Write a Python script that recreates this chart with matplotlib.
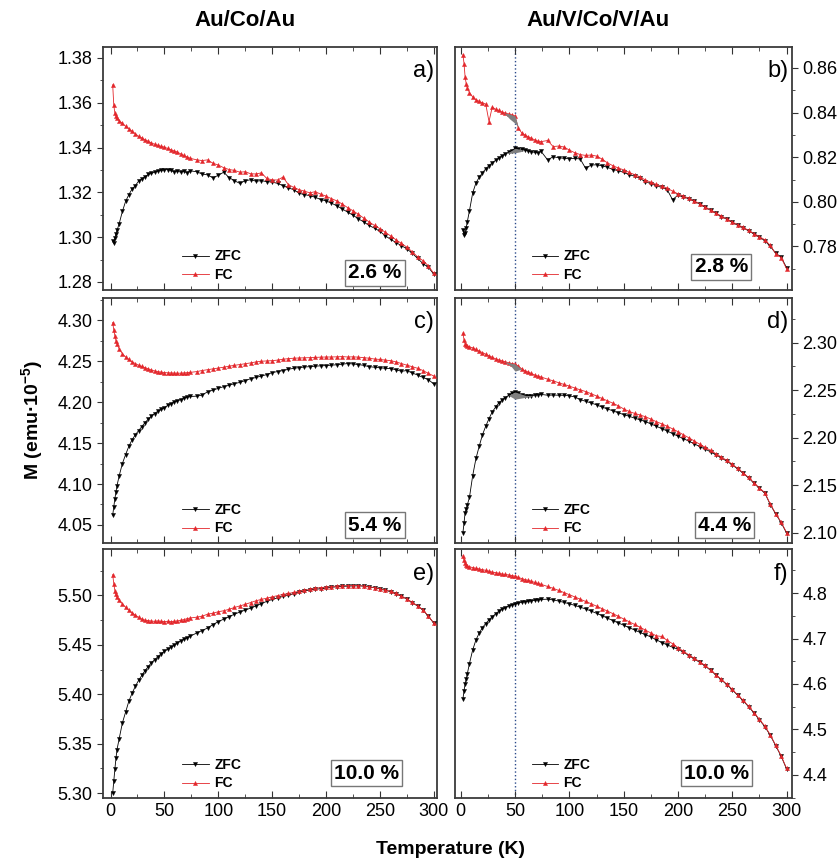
import matplotlib
matplotlib.use("Agg")
import matplotlib.pyplot as plt
from matplotlib.ticker import MultipleLocator, AutoMinorLocator, FormatStrFormatter

plt.rcParams["font.family"] = ["Liberation Sans", "DejaVu Sans"]
plt.rcParams["mathtext.fontset"] = "custom"
plt.rcParams["mathtext.rm"] = "Liberation Sans"
plt.rcParams["mathtext.bf"] = "Liberation Sans:bold"

# temperature grids (K): dense below 75 K, sparse above
T_low = [2, 3, 4, 5, 6, 8, 11, 14, 17, 20, 23, 26, 29, 32, 35, 38, 41, 44, 47, 50,
         53, 56, 59, 62, 65, 68, 71, 74]
T_high = [80, 85, 90, 95, 100, 105, 110, 115, 120, 125, 130, 135, 140, 145, 150,
          155, 160, 165, 170, 175, 180, 185, 190, 195, 200, 205, 210, 215, 220, 225,
          230, 235, 240, 245, 250, 255, 260, 265, 270, 275, 280, 285, 290, 295, 300]

# a) Au/Co/Au 2.6 %
a_zfc_low = [1.2985, 1.2975, 1.2995, 1.3015, 1.303, 1.306, 1.3115, 1.316, 1.319, 1.3215,
             1.323, 1.325, 1.326, 1.327, 1.328, 1.3285, 1.329, 1.3295, 1.3298, 1.330,
             1.3302, 1.3298, 1.3292, 1.3296, 1.329, 1.3294, 1.3288, 1.3296]
a_zfc_high = [1.3292, 1.3282, 1.3278, 1.3265, 1.3276, 1.3290, 1.3266, 1.3252, 1.3240,
              1.3252, 1.3256, 1.3250, 1.3252, 1.3248, 1.3246, 1.3240, 1.3230, 1.3220,
              1.3212, 1.3196, 1.3190, 1.3185, 1.3178, 1.3168, 1.3162, 1.3152, 1.3140,
              1.3126, 1.3112, 1.3098, 1.3082, 1.3068, 1.3052, 1.3040, 1.3026, 1.3006,
              1.2990, 1.2976, 1.2962, 1.2948, 1.2928, 1.2905, 1.2882, 1.2865, 1.2835]
a_fc_low = [1.368, 1.359, 1.3555, 1.354, 1.353, 1.352, 1.3508, 1.3495, 1.3485, 1.3472,
            1.3462, 1.345, 1.3443, 1.3435, 1.3428, 1.342, 1.3415, 1.341, 1.3405, 1.3402,
            1.3396, 1.339, 1.3385, 1.338, 1.3372, 1.3365, 1.3358, 1.3352]
a_fc_high = [1.3345, 1.3342, 1.3345, 1.3330, 1.3322, 1.3310, 1.3302, 1.3298, 1.3290,
             1.3292, 1.3283, 1.3282, 1.3287, 1.3262, 1.3256, 1.3255, 1.3268, 1.3235,
             1.3222, 1.3212, 1.3205, 1.3198, 1.3203, 1.3192, 1.3183, 1.3172, 1.3162,
             1.3148, 1.3132, 1.3118, 1.3102, 1.3085, 1.3068, 1.3052, 1.3038, 1.3022,
             1.3005, 1.2988, 1.2972, 1.2955, 1.2935, 1.2912, 1.2895, 1.2872, 1.2838]

# b) Au/V/Co/V/Au 2.8 %
b_zfc_low = [0.7875, 0.7850, 0.7862, 0.7885, 0.7910, 0.7960, 0.8040, 0.8085, 0.8110,
             0.8130, 0.8148, 0.8162, 0.8175, 0.8186, 0.8196, 0.8206, 0.8214, 0.8222,
             0.8230, 0.8240, 0.8238, 0.8235, 0.8232, 0.8228, 0.8224, 0.8222, 0.8220,
             0.8226]
b_zfc_high = [0.8188, 0.8202, 0.8198, 0.8195, 0.8193, 0.8195, 0.8192, 0.8150, 0.8165,
              0.8166, 0.8162, 0.8155, 0.8145, 0.8140, 0.8132, 0.8122, 0.8115, 0.8105,
              0.8090, 0.8082, 0.8072, 0.8065, 0.8055, 0.8010, 0.8030, 0.8022, 0.8014,
              0.8002, 0.7990, 0.7976, 0.7962, 0.7948, 0.7934, 0.7922, 0.7908, 0.7895,
              0.7884, 0.7870, 0.7856, 0.7842, 0.7826, 0.7800, 0.7770, 0.7752, 0.7705]
b_fc_low = [0.866, 0.862, 0.856, 0.853, 0.851, 0.849, 0.847, 0.8458, 0.845, 0.8444,
            0.8438, 0.836, 0.8425, 0.8415, 0.841, 0.8402, 0.8398, 0.8394, 0.839, 0.8385,
            0.8330, 0.8310, 0.8300, 0.8292, 0.8285, 0.8278, 0.8272, 0.8270]
b_fc_high = [0.8275, 0.8248, 0.8250, 0.8246, 0.8232, 0.8220, 0.8212, 0.8208, 0.8210,
             0.8205, 0.8192, 0.8175, 0.8162, 0.8152, 0.8143, 0.8132, 0.8122, 0.8112,
             0.8098, 0.8088, 0.8078, 0.8070, 0.8062, 0.8048, 0.8036, 0.8026, 0.8016,
             0.8004, 0.7992, 0.7978, 0.7964, 0.7950, 0.7936, 0.7924, 0.7910, 0.7898,
             0.7886, 0.7872, 0.7858, 0.7844, 0.7830, 0.7805, 0.7768, 0.7750, 0.7700]

# c) Au/Co/Au 5.4 %
c_zfc_low = [4.062, 4.072, 4.082, 4.090, 4.098, 4.110, 4.125, 4.136, 4.146, 4.154,
             4.160, 4.165, 4.170, 4.175, 4.179, 4.183, 4.186, 4.189, 4.191, 4.193,
             4.196, 4.198, 4.200, 4.2015, 4.203, 4.2045, 4.2058, 4.2068]
c_zfc_high = [4.2072, 4.2085, 4.2125, 4.2145, 4.2168, 4.2188, 4.2205, 4.2225, 4.2240,
              4.2262, 4.2285, 4.2300, 4.2318, 4.2335, 4.2360, 4.2372, 4.2385, 4.2400,
              4.2412, 4.2420, 4.2428, 4.2432, 4.2438, 4.2442, 4.2445, 4.2450, 4.2455,
              4.2462, 4.2470, 4.2465, 4.2458, 4.2448, 4.2432, 4.2425, 4.2418, 4.2412,
              4.2408, 4.2395, 4.2375, 4.2385, 4.2355, 4.2330, 4.2300, 4.2275, 4.2220]
c_fc_low = [4.297, 4.288, 4.281, 4.275, 4.271, 4.265, 4.259, 4.255, 4.252, 4.249,
            4.247, 4.245, 4.2435, 4.242, 4.2405, 4.239, 4.238, 4.237, 4.2365, 4.236,
            4.2357, 4.2355, 4.2353, 4.2352, 4.2352, 4.2355, 4.2358, 4.2362]
c_fc_high = [4.2372, 4.2385, 4.2395, 4.2405, 4.2415, 4.2425, 4.2438, 4.2448, 4.2458,
             4.2468, 4.2478, 4.2490, 4.2498, 4.2502, 4.2505, 4.2512, 4.2522, 4.2530,
             4.2535, 4.2538, 4.2540, 4.2542, 4.2545, 4.2548, 4.2550, 4.2550, 4.2552,
             4.2555, 4.2550, 4.2552, 4.2548, 4.2542, 4.2535, 4.2525, 4.2520, 4.2512,
             4.2505, 4.2490, 4.2470, 4.2450, 4.2432, 4.2412, 4.2385, 4.2350, 4.2318]

# d) Au/V/Co/V/Au 4.4 %
d_zfc_low = [2.1000, 2.110, 2.121, 2.125, 2.129, 2.137, 2.160, 2.178, 2.191, 2.203,
             2.212, 2.220, 2.227, 2.232, 2.2365, 2.2395, 2.242, 2.2445, 2.2465, 2.248,
             2.2468, 2.2450, 2.2442, 2.2440, 2.2442, 2.2445, 2.2450, 2.2455]
d_zfc_high = [2.2446, 2.2448, 2.2446, 2.2445, 2.2440, 2.2428, 2.2400, 2.2382, 2.2365,
              2.2345, 2.2322, 2.2302, 2.2282, 2.2262, 2.2242, 2.2225, 2.2205, 2.2188,
              2.2168, 2.2145, 2.2120, 2.2095, 2.2070, 2.2042, 2.2015, 2.1990, 2.1962,
              2.1935, 2.1905, 2.1880, 2.1850, 2.1818, 2.1785, 2.1752, 2.1712, 2.1670,
              2.1625, 2.1575, 2.1520, 2.1465, 2.1415, 2.1295, 2.1195, 2.1105, 2.0995]
d_fc_low = [2.310, 2.303, 2.299, 2.2975, 2.2965, 2.2955, 2.2945, 2.2928, 2.291, 2.2895,
            2.2878, 2.2862, 2.2845, 2.2830, 2.2818, 2.2808, 2.2798, 2.2788, 2.2780,
            2.2775, 2.2752, 2.2725, 2.2705, 2.2690, 2.2675, 2.2660, 2.2648, 2.2638]
d_fc_high = [2.2615, 2.2598, 2.2578, 2.2560, 2.2542, 2.2522, 2.2503, 2.2485, 2.2462,
             2.2438, 2.2412, 2.2388, 2.2362, 2.2335, 2.2302, 2.2275, 2.2255, 2.2238,
             2.2220, 2.2195, 2.2168, 2.2145, 2.2120, 2.2092, 2.2062, 2.2030, 2.1998,
             2.1965, 2.1930, 2.1898, 2.1865, 2.1830, 2.1795, 2.1760, 2.1720, 2.1675,
             2.1630, 2.1580, 2.1525, 2.1470, 2.1420, 2.1300, 2.1200, 2.1110, 2.1000]

# e) Au/Co/Au 10.0 %
e_zfc_low = [5.300, 5.312, 5.324, 5.335, 5.344, 5.355, 5.371, 5.382, 5.393, 5.401,
             5.408, 5.414, 5.419, 5.424, 5.428, 5.432, 5.435, 5.438, 5.441, 5.4435,
             5.4455, 5.4475, 5.4495, 5.452, 5.454, 5.4555, 5.4572, 5.4588]
e_zfc_high = [5.462, 5.4645, 5.467, 5.4705, 5.4735, 5.476, 5.4785, 5.481, 5.4832,
              5.4852, 5.4872, 5.4894, 5.4918, 5.494, 5.496, 5.4975, 5.499, 5.5003,
              5.5018, 5.5032, 5.5046, 5.5055, 5.5062, 5.5068, 5.5074, 5.5082, 5.5088,
              5.5092, 5.5094, 5.5096, 5.5097, 5.5094, 5.5086, 5.5078, 5.5066, 5.5052,
              5.5038, 5.5016, 5.4992, 5.4962, 5.4928, 5.4892, 5.4852, 5.4788, 5.4720]
e_fc_low = [5.521, 5.512, 5.505, 5.501, 5.498, 5.495, 5.4915, 5.488, 5.485, 5.4825,
            5.480, 5.478, 5.476, 5.475, 5.4745, 5.474, 5.4738, 5.4742, 5.4738, 5.4735,
            5.4738, 5.4735, 5.4738, 5.4742, 5.4748, 5.4755, 5.4765, 5.4772]
e_fc_high = [5.478, 5.479, 5.481, 5.482, 5.4835, 5.4845, 5.486, 5.4878, 5.4894, 5.491,
             5.4928, 5.4946, 5.496, 5.4972, 5.4986, 5.4998, 5.501, 5.502, 5.503, 5.5042,
             5.5052, 5.5062, 5.5072, 5.508, 5.5084, 5.509, 5.5095, 5.5098, 5.510, 5.510,
             5.510, 5.5096, 5.5088, 5.508, 5.5068, 5.5055, 5.5042, 5.502, 5.4995,
             5.4965, 5.493, 5.4895, 5.4855, 5.479, 5.4723]

# f) Au/V/Co/V/Au 10.0 %
f_zfc_low = [4.567, 4.585, 4.600, 4.611, 4.622, 4.645, 4.675, 4.697, 4.712, 4.724,
             4.733, 4.741, 4.748, 4.754, 4.760, 4.7645, 4.768, 4.7715, 4.774, 4.776,
             4.778, 4.7795, 4.781, 4.782, 4.783, 4.784, 4.785, 4.786]
f_zfc_high = [4.7865, 4.785, 4.7825, 4.7795, 4.7765, 4.7728, 4.7690, 4.765, 4.7605,
              4.7555, 4.7505, 4.745, 4.7395, 4.7345, 4.7292, 4.7240, 4.7188, 4.7135,
              4.7085, 4.7035, 4.6975, 4.6910, 4.6862, 4.6808, 4.6765, 4.670, 4.6625,
              4.655, 4.6475, 4.6395, 4.630, 4.6195, 4.609, 4.5985, 4.587, 4.575,
              4.563, 4.550, 4.536, 4.521, 4.506, 4.487, 4.464, 4.441, 4.413]
f_fc_low = [4.882, 4.872, 4.866, 4.862, 4.860, 4.858, 4.856, 4.8545, 4.853, 4.8515,
            4.850, 4.848, 4.846, 4.845, 4.8435, 4.842, 4.841, 4.840, 4.8385, 4.837,
            4.8345, 4.832, 4.8298, 4.828, 4.826, 4.8235, 4.8212, 4.8192]
f_fc_high = [4.8145, 4.8105, 4.806, 4.8012, 4.7965, 4.7915, 4.7865, 4.7815, 4.7765,
             4.7712, 4.7658, 4.7605, 4.7548, 4.749, 4.743, 4.737, 4.731, 4.7248,
             4.7185, 4.7122, 4.706, 4.7045, 4.696, 4.6885, 4.680, 4.672, 4.664,
             4.6565, 4.649, 4.6407, 4.631, 4.6205, 4.610, 4.5995, 4.588, 4.576,
             4.564, 4.551, 4.537, 4.522, 4.5074, 4.488, 4.465, 4.442, 4.414]

# grey wedges around the 50 K feature (T, lower, upper)
b_shade_fc = ([40, 45, 50, 53], [0.8398, 0.8372, 0.8352, 0.8335], [0.8398, 0.8394, 0.8385, 0.8335])
b_shade_zfc = ([42, 46, 50, 55, 58], [0.8218, 0.8218, 0.8220, 0.8225, 0.8230], [0.8218, 0.8228, 0.8240, 0.8235, 0.8230])
d_shade_fc = ([40, 46, 50, 56], [2.2800, 2.2755, 2.2700, 2.2722], [2.2800, 2.2785, 2.2775, 2.2722])
d_shade_zfc = ([44, 50, 60, 68], [2.2445, 2.2405, 2.2425, 2.2445], [2.2445, 2.2480, 2.2442, 2.2445])

titles = ["Au/Co/Au", "Au/V/Co/V/Au"]
letters = ["a)", "b)", "c)", "d)", "e)", "f)"]
percents = ["2.6 %", "2.8 %", "5.4 %", "4.4 %", "10.0 %", "10.0 %"]

RED = "#e3262b"


def setup_axis(ax, col, bottom_row, ylim, ystep, yfmt, xlim):
    ax.set_xlim(*xlim)
    ax.set_ylim(*ylim)
    ax.xaxis.set_major_locator(MultipleLocator(50))
    ax.xaxis.set_minor_locator(MultipleLocator(25))
    ax.yaxis.set_major_locator(MultipleLocator(ystep))
    ax.yaxis.set_minor_locator(AutoMinorLocator(2))
    ax.yaxis.set_major_formatter(FormatStrFormatter(yfmt))
    ax.tick_params(axis="x", which="both", direction="in", top=True, labelsize=13,
                   labelbottom=bottom_row, color="#333333")
    ax.tick_params(axis="x", which="major", length=5)
    ax.tick_params(axis="x", which="minor", length=3)
    ax.tick_params(axis="y", which="both", direction="out", labelsize=13, color="#333333")
    ax.tick_params(axis="y", which="major", length=4)
    ax.tick_params(axis="y", which="minor", length=2.5)
    if col == 1:
        ax.yaxis.tick_right()
    for s in ax.spines.values():
        s.set_color("#3a3a3a")
        s.set_linewidth(1.3)


def draw_panel(ax, zfc_low, zfc_high, fc_low, fc_high, letter, pct, col, pct_xy):
    T = T_low + T_high
    ax.plot(T, zfc_low + zfc_high, color="black", lw=0.6, marker="v", ms=3,
            mew=0.3, label="ZFC", zorder=3)
    ax.plot(T, fc_low + fc_high, color=RED, lw=0.6, marker="^", ms=3,
            mew=0.3, label="FC", zorder=3)
    ax.text(0.99, 0.9, letter, transform=ax.transAxes, ha="right", va="center",
            fontsize=17)
    ax.text(pct_xy[0], pct_xy[1], pct, transform=ax.transAxes, ha="center",
            va="center", fontsize=15, fontweight="bold",
            bbox=dict(boxstyle="square,pad=0.15", fc="white", ec="#777777", lw=1))
    leg = ax.legend(loc="lower left", bbox_to_anchor=(0.2 if col == 0 else 0.19, -0.02),
                    frameon=False, handlelength=1.9, handletextpad=0.4,
                    labelspacing=0.35, prop={"weight": "bold", "size": 10})
    for h in leg.legend_handles:
        h.set_markersize(3)


def main():
    fig = plt.figure(figsize=(8.4, 8.66), dpi=100)
    col_x = [(103 / 840, 334 / 840), (455 / 840, 337 / 840)]
    rows = [(1 - 290 / 866, 243 / 866), (1 - 543 / 866, 245 / 866),
            (1 - 798 / 866, 249 / 866)]
    xlims = [(-7, 303), (-5.3, 305)]

    panels = [
        (a_zfc_low, a_zfc_high, a_fc_low, a_fc_high, (1.2764, 1.3849), 0.02, "%.2f", (0.814, 0.07)),
        (b_zfc_low, b_zfc_high, b_fc_low, b_fc_high, (0.7605, 0.8694), 0.02, "%.2f", (0.79, 0.095)),
        (c_zfc_low, c_zfc_high, c_fc_low, c_fc_high, (4.028, 4.327), 0.05, "%.2f", (0.814, 0.073)),
        (d_zfc_low, d_zfc_high, d_fc_low, d_fc_high, (2.089, 2.347), 0.05, "%.2f", (0.80, 0.073)),
        (e_zfc_low, e_zfc_high, e_fc_low, e_fc_high, (5.295, 5.547), 0.05, "%.2f", (0.79, 0.10)),
        (f_zfc_low, f_zfc_high, f_fc_low, f_fc_high, (4.349, 4.897), 0.1, "%.1f", (0.777, 0.10)),
    ]
    shades = {1: (b_shade_fc, b_shade_zfc), 3: (d_shade_fc, d_shade_zfc)}

    for i, (zl, zh, fl, fh, ylim, ystep, yfmt, pct_xy) in enumerate(panels):
        row, col = divmod(i, 2)
        x0, w = col_x[col]
        y0, h = rows[row]
        ax = fig.add_axes([x0, y0, w, h])
        setup_axis(ax, col, row == 2, ylim, ystep, yfmt, xlims[col])
        if col == 1:
            ax.axvline(50, color="#2b4a8a", ls=":", lw=1, zorder=1)
        for sh in shades.get(i, ()):
            ax.fill_between(sh[0], sh[1], sh[2], color="#7f7f7f", lw=0, zorder=4)
        draw_panel(ax, zl, zh, fl, fh, letters[i], percents[i], col, pct_xy)

    fig.text(245 / 840, 1 - 21 / 866, titles[0], ha="center", va="center",
             fontsize=16, fontweight="bold")
    fig.text(598 / 840, 1 - 21 / 866, titles[1], ha="center", va="center",
             fontsize=16, fontweight="bold")
    fig.text(33 / 840, 1 - 420 / 866, "M (emu·10$^{\\mathbf{-5}}$)", rotation=90,
             ha="center", va="center", fontsize=14, fontweight="bold")
    fig.text(450 / 840, 1 - 850 / 866, "Temperature (K)", ha="center", va="center",
             fontsize=14, fontweight="bold")

    fig.savefig("out.png", dpi=100)


if __name__ == "__main__":
    main()
